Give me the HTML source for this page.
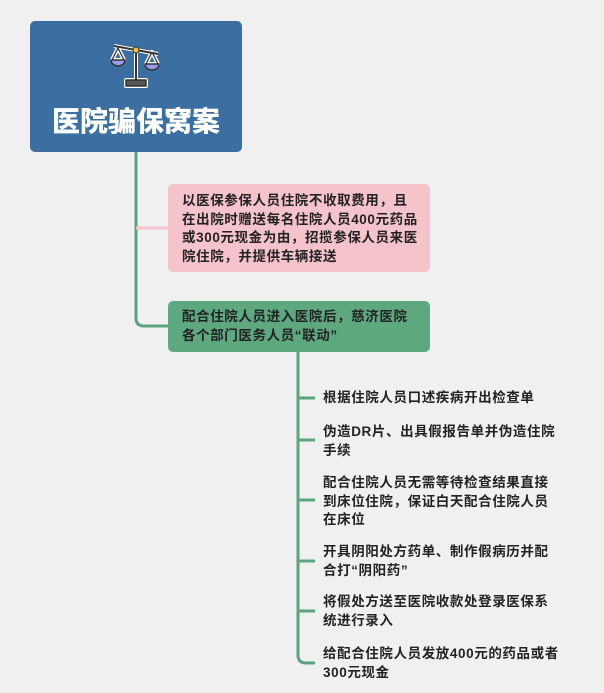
<!DOCTYPE html>
<html><head><meta charset="utf-8"><style>
body{margin:0;width:604px;height:693px;background:#f0f0f0;position:relative;overflow:hidden;font-family:"Liberation Sans","Noto Sans CJK SC",sans-serif;}
.a{position:absolute}
.t{position:absolute;font-size:13.5px;font-weight:bold;line-height:18.5px;color:#222;white-space:nowrap;letter-spacing:0.6px}
</style></head><body>
<div class="a" style="left:30px;top:21px;width:212px;height:131px;background:#3c6fa1;border-radius:5px"></div>
<svg class="a" style="left:108px;top:40px" width="56" height="50" viewBox="0 0 56 50">
<g stroke="#fff" stroke-width="4" fill="none" stroke-linejoin="round"><line x1="6" y1="6" x2="50" y2="14"/><line x1="28" y1="10" x2="28" y2="42"/><rect x="18" y="40" width="20" height="6"/><path d="M4 20 L10 8 L16 20 Z"/><path d="M38 24 L44 12 L50 24 Z"/></g>
<line x1="6" y1="6" x2="50" y2="14" stroke="#333" stroke-width="2"/>
<line x1="28" y1="10" x2="28" y2="42" stroke="#333" stroke-width="2"/>
<rect x="18" y="40" width="20" height="6" fill="#555" stroke="#333" stroke-width="1.5"/>
<path d="M10 8 L4 20 M10 8 L16 20 M44 12 L38 24 M44 12 L50 24" stroke="#333" stroke-width="1.3"/>
<path d="M3 20 H17 A7 6 0 0 1 3 20Z" fill="#9a9cf0" stroke="#333" stroke-width="1.5"/>
<path d="M37 24 H51 A7 6 0 0 1 37 24Z" fill="#9a9cf0" stroke="#333" stroke-width="1.5"/>
<circle cx="28" cy="10" r="3" fill="#f2c230" stroke="#333"/>
</svg>
<div class="a" style="left:30px;top:104px;width:212px;text-align:center;color:#fff;font-size:28px;font-weight:900;line-height:36px">医院骗保窝案</div>
<svg class="a" style="left:0;top:0" width="604" height="693">
<g stroke="#5aa57f" stroke-width="3" fill="none">
<path d="M136 152 V318 Q136 326 144 326 H168"/>
<path d="M136 228 H168" stroke="#f2c4cc"/>
<path d="M298 352 V655 Q298 663 306 663 H315"/>
<path d="M298 398 H315 M298 440 H315 M298 500 H315 M298 561 H315 M298 611 H315"/>
</g></svg>
<div class="a" style="left:168px;top:184px;width:262px;height:88px;background:#f4c3cb;border-radius:5px"></div>
<div class="t" style="left:182px;top:192px">以医保参保人员住院不收取费用，且<br>在出院时赠送每名住院人员400元药品<br>或300元现金为由，招揽参保人员来医<br>院住院，并提供车辆接送</div>
<div class="a" style="left:168px;top:301px;width:262px;height:51px;background:#5ea880;border-radius:5px"></div>
<div class="t" style="left:182px;top:308px">配合住院人员进入医院后，慈济医院<br>各个部门医务人员“联动”</div>
<div class="t" style="left:323px;top:389px">根据住院人员口述疾病开出检查单</div>
<div class="t" style="left:323px;top:423px">伪造DR片、出具假报告单并伪造住院<br>手续</div>
<div class="t" style="left:323px;top:474px">配合住院人员无需等待检查结果直接<br>到床位住院，保证白天配合住院人员<br>在床位</div>
<div class="t" style="left:323px;top:543px">开具阴阳处方药单、制作假病历并配<br>合打“阴阳药”</div>
<div class="t" style="left:323px;top:593px">将假处方送至医院收款处登录医保系<br>统进行录入</div>
<div class="t" style="left:323px;top:645px">给配合住院人员发放400元的药品或者<br>300元现金</div>
</body></html>
